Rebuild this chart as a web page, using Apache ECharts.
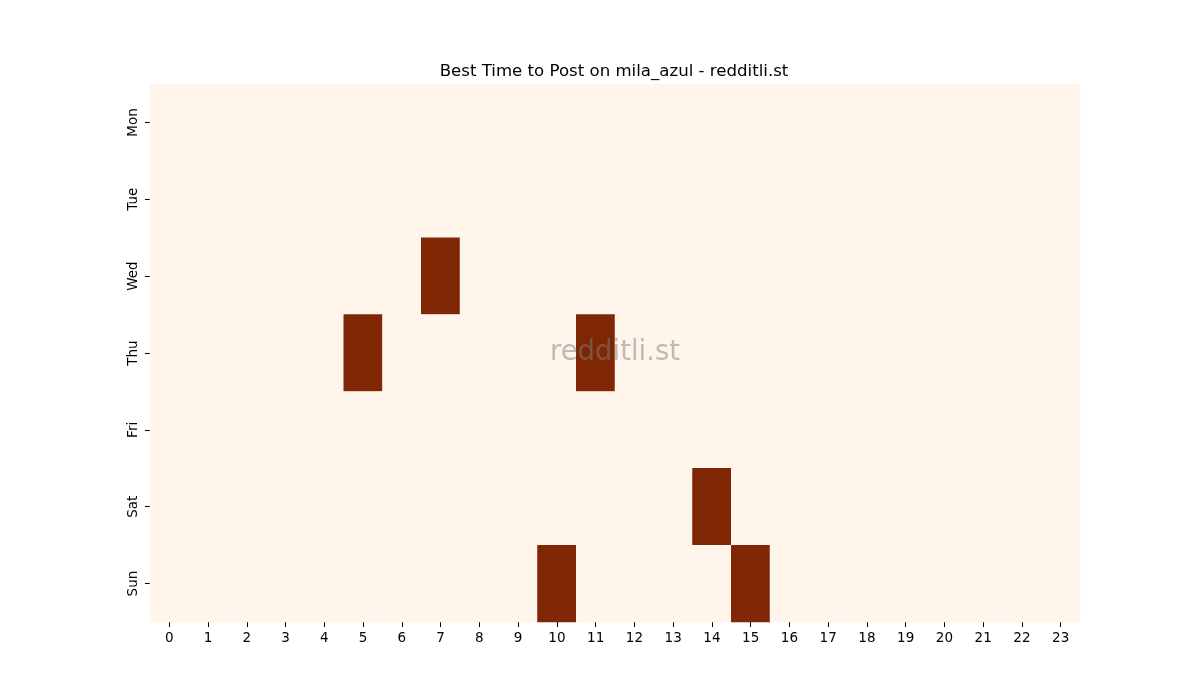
<!DOCTYPE html>
<html>
<head>
<meta charset="utf-8">
<script src="https://cdn.jsdelivr.net/npm/echarts@6/dist/echarts.min.js"></script>
<style>html,body{margin:0;padding:0;background:#fff}#c{width:1200px;height:700px}</style>
</head>
<body>
<div id="c"></div>
<script>
const hours = ['0','1','2','3','4','5','6','7','8','9','10','11','12','13','14','15','16','17','18','19','20','21','22','23'];
const days = ['Mon','Tue','Wed','Thu','Fri','Sat','Sun'];
// active cells: [hourIndex, dayIndex, value]
const activeCells = [[7,2,1],[5,3,1],[11,3,1],[14,5,1],[10,6,1],[15,6,1]];
const titleText = 'Best Time to Post on mila_azul - redditli.st';
const watermark = 'redditli.st';

const data = [];
for (let d = 0; d < days.length; d++) {
  for (let h = 0; h < hours.length; h++) {
    const a = activeCells.find(c => c[0] === h && c[1] === d);
    data.push([h, d, a ? a[2] : 0]);
  }
}
const chart = echarts.init(document.getElementById('c'));
const font = 'DejaVu Sans';
chart.setOption({
  animation: false,
  backgroundColor: '#fff',
  title: {text: titleText, left: 609, textAlign: 'center', top: 58, textStyle: {fontFamily: font, fontSize: 16.6, fontWeight: 'normal', color: '#000'}},
  grid: {left: 150, right: 120, top: 84, bottom: 78},
  xAxis: {type: 'category', data: hours, axisLine: {show: false}, splitArea: {show: false},
    axisTick: {show: true, alignWithLabel: true, length: 5, lineStyle: {color: '#000'}},
    axisLabel: {fontFamily: font, fontSize: 13.5, color: '#000', margin: 9, interval: 0}},
  yAxis: {type: 'category', data: days, inverse: true, axisLine: {show: false},
    axisTick: {show: true, alignWithLabel: true, length: 5, lineStyle: {color: '#000'}},
    axisLabel: {fontFamily: font, fontSize: 13.5, color: '#000', rotate: 90, margin: 10}},
  visualMap: {show: false, min: 0, max: 1, inRange: {color: ['#fff5eb', '#7f2704']}},
  series: [{type: 'heatmap', data: data, itemStyle: {borderWidth: 0}, emphasis: {disabled: true}}],
  graphic: [{type: 'text', left: 550, top: 339, z: 100,
    style: {text: watermark, fontFamily: font, fontSize: 27.5, fill: 'rgba(128,128,128,0.5)'}}]
});
</script>
</body>
</html>
